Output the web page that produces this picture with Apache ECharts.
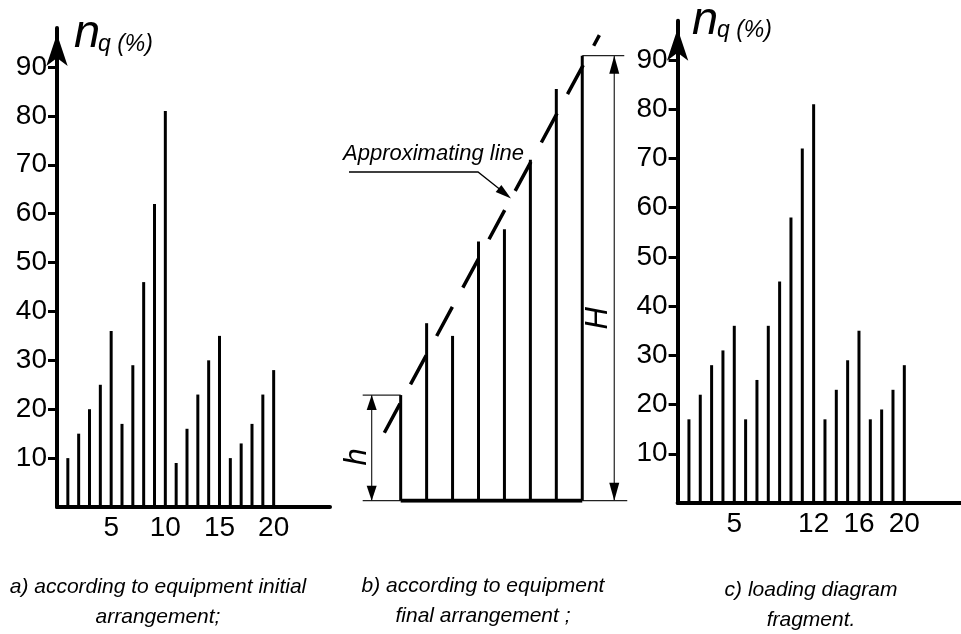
<!DOCTYPE html>
<html><head><meta charset="utf-8">
<script src="https://cdn.jsdelivr.net/npm/echarts@6/dist/echarts.min.js"></script>
<style>html,body{margin:0;padding:0;background:#fff}#c{width:961px;height:634px}</style>
</head><body><div id="c"></div>
<script>
// ---------- data ----------
// panel a) initial arrangement
const aPositions = [1,2,3,4,5,6,7,8,9,10,11,12,13,14,15,16,17,18,19,20];
const aValues = [10,15,20,25,36,17,29,46,62,81,9,16,23,30,35,10,13,17,23,28];
const aXTicks = [5,10,15,20];
// panel b) final arrangement (sorted)
const bPositions = [1,2,3,4,5,6,7,8];
const bValues = [21.6,36.3,33.7,53.0,55.5,69.7,84.2,91.0];
const approxLineX = [0.37, 8.66];
const approxLineY = [13.9, 95.2];
// panel c) loading diagram fragment
const cPositions = [1,2,3,4,5,6,7,8,9,10,11,12,13,14,15,16,17,18,19,20];
const cValues = [17,22,28,31,36,17,25,36,45,58,72,81,17,23,29,35,17,19,23,28];
const cXTicks = [5,12,16,20];
// shared y ticks
const yTicks = [10,20,30,40,50,60,70,80,90];
const yAxisName = ['n', 'q (%)'];
const captions = [
  'a) according to equipment initial\narrangement;',
  'b) according to equipment\nfinal arrangement ;',
  'c) loading diagram\nfragment.'
];
const approxLabel = 'Approximating line';

// ---------- chart ----------
const FONT = 'Liberation Sans';
const chart = echarts.init(document.getElementById('c'), null, {renderer: 'canvas'});
const pairs = (xs, ys) => xs.map((x, i) => [x, ys[i]]);

function visX(grid, max, ticks) {
  return {
    gridIndex: grid, type: 'value', min: 0, max: max,
    axisLine: {show: true, onZero: false, lineStyle: {color: '#000', width: 4}},
    axisTick: {show: false}, splitLine: {show: false},
    axisLabel: {customValues: ticks, margin: 7, fontSize: 28, color: '#000', fontFamily: FONT}
  };
}
function visY(grid, off) {
  return {
    gridIndex: grid, type: 'value', min: 0, max: 98,
    axisLine: {show: true, onZero: false, lineStyle: {color: '#000', width: 4},
      symbol: ['none', 'arrow'], symbolSize: [16, 32], symbolOffset: [0, off]},
    axisTick: {show: true, customValues: yTicks, length: 9, lineStyle: {color: '#000', width: 3}},
    splitLine: {show: false},
    axisLabel: {customValues: yTicks, margin: 10, fontSize: 28, color: '#000', fontFamily: FONT}
  };
}
const barStyle = {color: '#000'};

chart.setOption({
  animation: false,
  backgroundColor: '#fff',
  grid: [
    {left: 57, top: 507 - 98 * 4.889, width: 273, height: 98 * 4.889},
    {left: 348.8, top: 500.7 - 100 * 4.89, width: 11 * 25.94, height: 100 * 4.89},
    {left: 677.6, top: 503 - 98 * 4.922, width: 283.8, height: 98 * 4.922}
  ],
  xAxis: [
    visX(0, 25.2, aXTicks),
    {gridIndex: 1, type: 'value', min: -1, max: 10, show: false},
    visX(2, 25, cXTicks)
  ],
  yAxis: [
    visY(0, -6),
    {gridIndex: 1, type: 'value', min: 0, max: 100, show: false},
    visY(2, -8)
  ],
  series: [
    {type: 'bar', xAxisIndex: 0, yAxisIndex: 0, barWidth: 3, itemStyle: barStyle,
      data: pairs(aPositions, aValues)},
    {type: 'bar', xAxisIndex: 1, yAxisIndex: 1, barWidth: 3, itemStyle: barStyle,
      data: pairs(bPositions, bValues)},
    {type: 'line', xAxisIndex: 1, yAxisIndex: 1, symbol: 'none', z: 3,
      lineStyle: {color: '#000', width: 4},
      data: [[bPositions[0], 0], [bPositions[bPositions.length - 1], 0]]},
    {type: 'line', xAxisIndex: 1, yAxisIndex: 1, symbol: 'none', z: 3,
      lineStyle: {color: '#000', width: 3.5, type: [33, 22], cap: 'butt'},
      data: pairs(approxLineX, approxLineY)},
    {type: 'bar', xAxisIndex: 2, yAxisIndex: 2, barWidth: 3, itemStyle: barStyle,
      data: pairs(cPositions, cValues)}
  ]
});

// ---------- annotations ----------
const g = [];
const thin = {stroke: '#222', lineWidth: 1.2};
function line(x1, y1, x2, y2, style) {
  g.push({type: 'line', shape: {x1, y1, x2, y2}, style: Object.assign({}, style || thin)});
}
function arrowHead(tip, from, len, w) {
  const dx = tip[0] - from[0], dy = tip[1] - from[1];
  const L = Math.hypot(dx, dy), ux = dx / L, uy = dy / L;
  const bx = tip[0] - ux * len, by = tip[1] - uy * len;
  g.push({type: 'polygon', shape: {points: [tip, [bx - uy * w / 2, by + ux * w / 2], [bx + uy * w / 2, by - ux * w / 2]]},
    style: {fill: '#000'}});
}
function text(str, x, y, size, opts) {
  g.push(Object.assign({type: 'text', x, y,
    style: {text: str, fill: '#000', font: 'italic ' + size + 'px ' + FONT,
      align: 'left', verticalAlign: 'middle'}}, opts || {}));
  return g[g.length - 1];
}

const px = (grid, v) => chart.convertToPixel({gridIndex: grid}, v);
// h dimension (first bar)
const t1 = px(1, [bPositions[0], bValues[0]]), b1 = px(1, [bPositions[0], 0]);
line(t1[0] - 38, t1[1], t1[0], t1[1]);
line(b1[0] - 38, b1[1], b1[0], b1[1]);
const hx = t1[0] - 29;
line(hx, t1[1], hx, b1[1]);
arrowHead([hx, t1[1]], [hx, b1[1]], 15, 10);
arrowHead([hx, b1[1]], [hx, t1[1]], 15, 10);
let e = text('h', t1[0] - 43, (t1[1] + b1[1]) / 2 + 9, 31, {rotation: Math.PI / 2});
e.style.align = 'center';
// H dimension (last bar)
const n = bPositions.length - 1;
const t8 = px(1, [bPositions[n], bValues[n]]), b8 = px(1, [bPositions[n], 0]);
line(t8[0], t8[1], t8[0] + 42, t8[1]);
line(b8[0], b8[1], b8[0] + 45, b8[1]);
const Hx = t8[0] + 32;
line(Hx, t8[1], Hx, b8[1]);
arrowHead([Hx, t8[1]], [Hx, b8[1]], 18, 10);
arrowHead([Hx, b8[1]], [Hx, t8[1]], 18, 10);
e = text('H', t8[0] + 16, (t8[1] + b8[1]) / 2 + 40, 31, {rotation: Math.PI / 2});
e.style.align = 'center';

// approximating line callout
text(approxLabel, 343, 154, 22);
g.push({type: 'polyline', shape: {points: [[349, 172], [478, 172], [502, 191]]}, style: {stroke: '#000', lineWidth: 1.3, fill: null}});
arrowHead([511, 198.5], [478, 172], 16, 9);

// axis names n_q (%)
text(yAxisName[0], 74, 34, 47);
text(yAxisName[1], 98, 45, 23);
text(yAxisName[0], 692, 21, 47);
text(yAxisName[1], 717, 31, 23);

// captions
const capPos = [[158, 587], [483, 586], [811, 590]];
captions.forEach((c, i) => {
  g.push({type: 'text', x: capPos[i][0], y: capPos[i][1] - 15,
    style: {text: c, fill: '#000', font: 'italic 21px ' + FONT, align: 'center', verticalAlign: 'top', lineHeight: 30}});
});

chart.setOption({graphic: g});
</script></body></html>
